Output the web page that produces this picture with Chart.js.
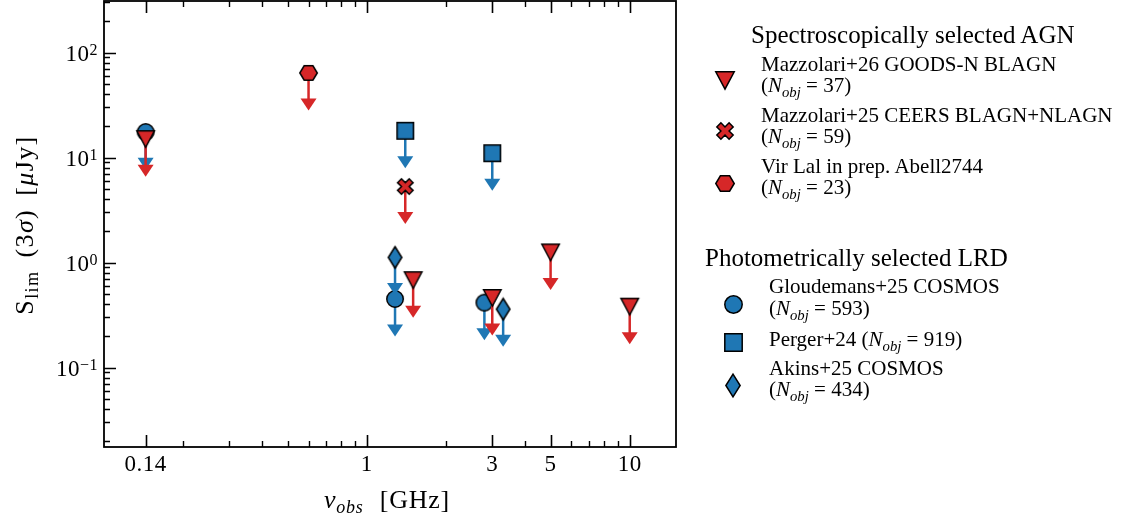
<!DOCTYPE html>
<html><head><meta charset="utf-8">
<script src="https://cdn.jsdelivr.net/npm/chart.js@4.4.1/dist/chart.umd.min.js"></script>
<style>
html,body{margin:0;padding:0;background:#fff;}
#wrap{position:relative;width:1129px;height:521px;overflow:hidden;font-family:"Liberation Serif",serif;color:#000;}
#c{position:absolute;left:0;top:0;}
.lg{position:absolute;white-space:nowrap;line-height:1;}
.sub{font-size:70%;position:relative;top:0.3em;font-style:italic;}
.mk{position:absolute;}
</style></head><body>
<div id="wrap"><canvas id="c" width="1129" height="521"></canvas><div id="legend"></div></div>
<script>
// ---- data ----
const goodsnFreq = [0.144, 1.5, 3.0, 5.0, 10.0];
const goodsnLim  = [15, 0.68, 0.46, 1.25, 0.38];
const ceersFreq  = [1.4];
const ceersLim   = [5.3];
const abellFreq  = [0.6];
const abellLim   = [64];
const gloudFreq  = [0.144, 1.28, 2.8];
const gloudLim   = [17.5, 0.45, 0.415];
const pergerFreq = [1.4, 3.0];
const pergerLim  = [18, 11];
const akinsFreq  = [1.28, 3.3];
const akinsLim   = [1.12, 0.36];
const arrowFactor = 0.5;           // upper-limit arrows extend to value * 0.5
const xTickValues = [0.144, 1, 3, 5, 10];
const xTickLabels = ['0.14', '1', '3', '5', '10'];
const yTickValues = [0.1, 1, 10, 100];
const yTickExps   = ['\u22121', '0', '1', '2'];

const RED = '#d62728', BLUE = '#1f77b4';
const FONT = '"Liberation Serif", serif';

function makeMarker(shape, color, w, h) {
  const pad = 3;
  const W = Math.ceil(w + pad * 2), H = Math.ceil(h + pad * 2);
  const c = document.createElement('canvas'); c.width = W; c.height = H;
  const g = c.getContext('2d');
  const cx = W / 2, cy = H / 2, hw = w / 2 - 0.75, hh = h / 2 - 0.75;
  g.beginPath();
  if (shape === 'tri') {
    g.moveTo(cx - hw, cy - hh); g.lineTo(cx + hw, cy - hh); g.lineTo(cx, cy + hh); g.closePath();
  } else if (shape === 'circle') {
    g.arc(cx, cy, hw, 0, Math.PI * 2);
  } else if (shape === 'square') {
    g.rect(cx - hw, cy - hh, 2 * hw, 2 * hh);
  } else if (shape === 'diamond') {
    g.moveTo(cx, cy - hh); g.lineTo(cx + hw, cy); g.lineTo(cx, cy + hh); g.lineTo(cx - hw, cy); g.closePath();
  } else if (shape === 'hex') {
    for (let i = 0; i < 6; i++) {
      const a = i * Math.PI / 3;
      const px = cx + hw * Math.cos(a), py = cy + hh * Math.sin(a) / Math.sin(Math.PI / 3);
      if (i === 0) g.moveTo(px, py); else g.lineTo(px, py);
    }
    g.closePath();
  } else if (shape === 'x') {
    const a = hw / 0.943, b = a / 3;
    const pts = [[b, b], [a, b], [a, -b], [b, -b], [b, -a], [-b, -a], [-b, -b], [-a, -b], [-a, b], [-b, b], [-b, a], [b, a]];
    const r = Math.PI / 4;
    pts.forEach((p, i) => {
      const px = cx + p[0] * Math.cos(r) - p[1] * Math.sin(r);
      const py = cy + p[0] * Math.sin(r) + p[1] * Math.cos(r);
      if (i === 0) g.moveTo(px, py); else g.lineTo(px, py);
    });
    g.closePath();
  }
  g.fillStyle = color; g.fill();
  g.lineWidth = 1.5; g.strokeStyle = '#000'; g.lineJoin = 'miter'; g.stroke();
  return c;
}

const SIZES = { tri: [19, 18], circle: [18, 18], square: [18, 18], diamond: [15, 23], hex: [19, 16], x: [17, 17] };
function mk(shape, color, scale) { const s = SIZES[shape]; return makeMarker(shape, color, s[0] * scale, s[1] * scale); }

function pts(xs, ys) { return xs.map((x, i) => ({ x: x, y: ys[i] })); }

const datasets = [
  { label: 'Akins+25 COSMOS', data: pts(akinsFreq, akinsLim), pointStyle: mk('diamond', BLUE, 1), arrowColor: BLUE, order: 1 },
  { label: 'Mazzolari+26 GOODS-N BLAGN', data: pts(goodsnFreq, goodsnLim), pointStyle: mk('tri', RED, 1), arrowColor: RED, order: 2 },
  { label: 'Mazzolari+25 CEERS BLAGN+NLAGN', data: pts(ceersFreq, ceersLim), pointStyle: mk('x', RED, 1), arrowColor: RED, order: 3 },
  { label: 'Vir Lal in prep. Abell2744', data: pts(abellFreq, abellLim), pointStyle: mk('hex', RED, 1), arrowColor: RED, order: 4 },
  { label: 'Perger+24', data: pts(pergerFreq, pergerLim), pointStyle: mk('square', BLUE, 1), arrowColor: BLUE, order: 5 },
  { label: 'Gloudemans+25 COSMOS', data: pts(gloudFreq, gloudLim), pointStyle: mk('circle', BLUE, 1), arrowColor: BLUE, order: 6 }
];
datasets.forEach(d => { d.pointRadius = 9; d.pointHoverRadius = 9; d.showLine = false; d.clip = false; });

const arrowPlugin = {
  id: 'uplims',
  beforeDatasetDraw(chart, args) {
    const ds = chart.data.datasets[args.index];
    const ys = chart.scales.y;
    const ctx = chart.ctx;
    ctx.save();
    args.meta.data.forEach((el, i) => {
      const v = ds.data[i].y;
      const x = el.x, y0 = el.y;
      const yEnd = ys.getPixelForValue(v * arrowFactor);
      ctx.strokeStyle = ds.arrowColor; ctx.fillStyle = ds.arrowColor;
      ctx.lineWidth = 2.5;
      ctx.beginPath(); ctx.moveTo(x, y0); ctx.lineTo(x, yEnd - 5); ctx.stroke();
      ctx.beginPath(); ctx.moveTo(x - 8, yEnd - 6); ctx.lineTo(x + 8, yEnd - 6); ctx.lineTo(x, yEnd + 6); ctx.closePath(); ctx.fill();
    });
    ctx.restore();
  }
};

function drawSegs(ctx, segs, x, y, align, spacing) {
  ctx.letterSpacing = (spacing || 0) + 'px';
  let total = 0;
  segs.forEach(s => {
    if (s.gap) { s.w = s.gap; }
    else { ctx.font = (s.it ? 'italic ' : '') + s.size + 'px ' + FONT; s.w = ctx.measureText(s.t).width; }
    total += s.w;
  });
  let cx = align === 'center' ? x - total / 2 : (align === 'right' ? x - total : x);
  ctx.textAlign = 'left'; ctx.textBaseline = 'alphabetic'; ctx.fillStyle = '#000';
  segs.forEach(s => {
    if (!s.gap) {
      ctx.font = (s.it ? 'italic ' : '') + s.size + 'px ' + FONT;
      ctx.fillText(s.t, cx, y + (s.dy || 0));
    }
    cx += s.w;
  });
  ctx.letterSpacing = '0px';
}

const framePlugin = {
  id: 'frame',
  afterDraw(chart) {
    const ctx = chart.ctx, a = chart.chartArea, xs = chart.scales.x, ys = chart.scales.y;
    ctx.save();
    ctx.strokeStyle = '#000';
    const xMinor = [];
    for (let d = -1; d <= 1; d++) for (let k = 1; k <= 9; k++) {
      const v = k * Math.pow(10, d);
      if (v <= xs.min || v >= xs.max) continue;
      if (xTickValues.some(t => Math.abs(Math.log10(t) - Math.log10(v)) < 0.01)) continue;
      xMinor.push(v);
    }
    const yMinor = [];
    for (let d = -2; d <= 2; d++) for (let k = 2; k <= 9; k++) {
      const v = k * Math.pow(10, d);
      if (v > ys.min && v < ys.max) yMinor.push(v);
    }
    ctx.lineWidth = 1.4;
    ctx.beginPath();
    xMinor.forEach(v => {
      const px = Math.round(xs.getPixelForValue(v)) + 0.5;
      ctx.moveTo(px, a.bottom); ctx.lineTo(px, a.bottom - 6);
      ctx.moveTo(px, a.top); ctx.lineTo(px, a.top + 6);
    });
    yMinor.forEach(v => {
      const py = Math.round(ys.getPixelForValue(v)) + 0.5;
      ctx.moveTo(a.left, py); ctx.lineTo(a.left + 6, py);
    });
    ctx.stroke();
    ctx.lineWidth = 1.6;
    ctx.beginPath();
    xTickValues.forEach(v => {
      const px = Math.round(xs.getPixelForValue(v)) + 0.5;
      ctx.moveTo(px, a.bottom); ctx.lineTo(px, a.bottom - 12);
      ctx.moveTo(px, a.top); ctx.lineTo(px, a.top + 12);
    });
    yTickValues.forEach(v => {
      const py = Math.round(ys.getPixelForValue(v)) + 0.5;
      ctx.moveTo(a.left, py); ctx.lineTo(a.left + 12, py);
    });
    ctx.stroke();
    ctx.lineWidth = 1.8;
    ctx.strokeRect(a.left, a.top, a.right - a.left, a.bottom - a.top);
    xTickValues.forEach((v, i) => {
      drawSegs(ctx, [{ t: xTickLabels[i], size: 23 }], xs.getPixelForValue(v), 471, 'center', 0.5);
    });
    yTickValues.forEach((v, i) => {
      const py = ys.getPixelForValue(v);
      drawSegs(ctx, [{ t: '10', size: 23 }, { t: yTickExps[i], size: 16, dy: -6 }], 98, py + 8, 'right', 0.5);
    });
    drawSegs(ctx, [{ t: '\u03bd', it: true, size: 26 }, { t: 'obs', it: true, size: 18, dy: 5 }, { gap: 16 }, { t: '[GHz]', size: 26 }], 387, 508, 'center', 0.8);
    ctx.translate(33, 225);
    ctx.rotate(-Math.PI / 2);
    drawSegs(ctx, [
      { t: 'S', size: 26 }, { t: 'lim', size: 18, dy: 5 }, { gap: 13 },
      { t: '(3', size: 26 }, { t: '\u03c3', it: true, size: 26 }, { t: ')', size: 26 }, { gap: 13 },
      { t: '[', size: 26 }, { t: '\u03bc', it: true, size: 26 }, { t: 'Jy]', size: 26 }
    ], 0, 0, 'center', 1.4);
    ctx.restore();
  }
};

new Chart(document.getElementById('c'), {
  type: 'scatter',
  data: { datasets: datasets },
  options: {
    responsive: false, animation: false, devicePixelRatio: 1, events: [],
    layout: { autoPadding: false, padding: { left: 0, top: 1, right: 453, bottom: 0 } },
    plugins: { legend: { display: false }, tooltip: { enabled: false } },
    scales: {
      x: { type: 'logarithmic', min: 0.1, max: 15, grid: { display: false, drawTicks: false }, border: { display: false }, ticks: { display: false }, afterFit(s) { s.height = 74; } },
      y: { type: 'logarithmic', min: 0.0175, max: 310, grid: { display: false, drawTicks: false }, border: { display: false }, ticks: { display: false }, afterFit(s) { s.width = 104; } }
    }
  },
  plugins: [arrowPlugin, framePlugin]
});

// ---- legend (HTML text) ----
const legend = document.getElementById('legend');
function addText(html, x, baseline, size) {
  const d = document.createElement('div');
  d.className = 'lg';
  d.style.left = x + 'px';
  d.style.top = (baseline - 0.8375 * size) + 'px';
  d.style.fontSize = size + 'px';
  d.innerHTML = html;
  legend.appendChild(d);
}
function addMarker(shape, color, cx, cy) {
  const c = mk(shape, color, 1.05);
  c.className = 'mk';
  c.style.left = (cx - c.width / 2) + 'px';
  c.style.top = (cy - c.height / 2) + 'px';
  legend.appendChild(c);
}
const nobj = n => '(<i>N</i><span class="sub">obj</span> = ' + n + ')';
addText('Spectroscopically selected AGN', 751, 43, 25);
addMarker('tri', RED, 725, 80);
addText('Mazzolari+26 GOODS-N BLAGN', 761, 72, 21);
addText(nobj(37), 761, 93, 21);
addMarker('x', RED, 725, 131);
addText('Mazzolari+25 CEERS BLAGN+NLAGN', 761, 123, 21);
addText(nobj(59), 761, 144, 21);
addMarker('hex', RED, 725, 183);
addText('Vir Lal in prep. Abell2744', 761, 174, 21);
addText(nobj(23), 761, 195, 21);

addText('Photometrically selected LRD', 705, 266, 25);
addMarker('circle', BLUE, 733, 304);
addText('Gloudemans+25 COSMOS', 769, 294, 21);
addText(nobj(593), 769, 316, 21);
addMarker('square', BLUE, 733, 342);
addText('Perger+24 ' + nobj(919), 769, 347, 21);
addMarker('diamond', BLUE, 733, 385);
addText('Akins+25 COSMOS', 769, 376, 21);
addText(nobj(434), 769, 397, 21);
</script>
</body></html>
